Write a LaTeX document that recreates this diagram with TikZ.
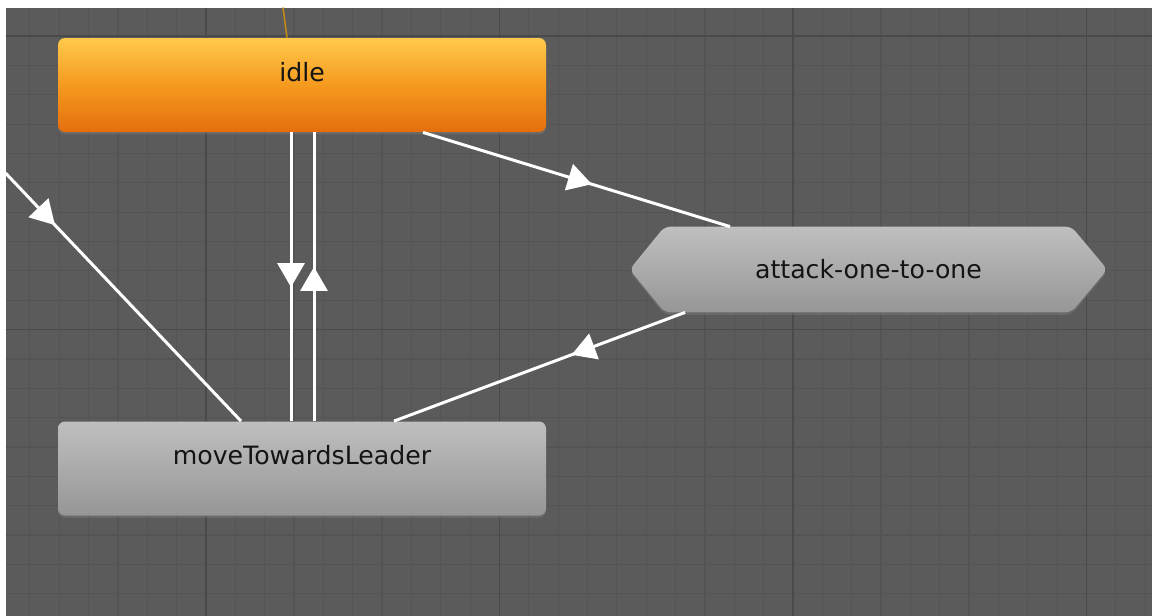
\documentclass[tikz,border=0pt]{standalone}
\usepackage{fontspec}
\setmainfont{DejaVu Sans}
\usetikzlibrary{positioning,arrows.meta,calc,decorations.markings,backgrounds,shadows}
\definecolor{canvas}{HTML}{5B5B5B}
\definecolor{gridfine}{HTML}{545454}
\definecolor{gridbold}{HTML}{4A4A4A}
\definecolor{idletop}{HTML}{FFC94C}
\definecolor{idlemid}{HTML}{F59A1E}
\definecolor{idlebot}{HTML}{E56E0E}
\definecolor{greytop}{HTML}{BFBFBF}
\definecolor{greybot}{HTML}{969696}
\definecolor{entryline}{HTML}{C08A18}
\definecolor{labeltext}{HTML}{141414}
\tikzset{
  animstate/.style = {rectangle, rounded corners=3.5pt, minimum width=244pt, minimum height=47pt,
                      inner sep=0pt, text height=9pt, text depth=13pt, text=labeltext,
                      drop shadow={opacity=0.4, shadow xshift=0pt, shadow yshift=-1.2pt}},
  hexstate/.style  = {rectangle, minimum width=238.5pt, minimum height=42.5pt, inner sep=0pt,
                      text=labeltext},
  idlefill/.style  = {top color=idletop, bottom color=idlebot, middle color=idlemid},
  greyfill/.style  = {top color=greytop, bottom color=greybot},
  gridline/.style  = {draw=gridfine, line width=0.6pt},
  gridmajor/.style = {draw=gridbold, line width=0.7pt},
  entry/.style     = {draw=entryline, line width=0.8pt},
  trans/.style     = {white, line width=1.5pt, postaction={decorate},
                      decoration={markings, mark=at position #1 with
                        {\arrow{Triangle[length=12pt, width=13.5pt]}}}},
}

\begin{document}
\begin{tikzpicture}[x=0.5pt, y=-0.5pt, font=\fontsize{12.6}{15}\selectfont]
  \useasboundingbox (0,0) rectangle (1152,616);

  %% ---------------- canvas and grid ---------------------------------------------
  \begin{scope}[on background layer]
    \fill[white] (0,0) rectangle (1152,616);
    \fill[canvas] (5.5,7.5) rectangle (1152,616);
    \foreach \k in {1,...,39} \draw[gridline] ({0.5+29.35*\k},7.5) -- ({0.5+29.35*\k},616);
    \foreach \k in {1,...,20} \draw[gridline] (5.5,{6.7+29.35*\k}) -- (1152,{6.7+29.35*\k});
    \foreach \k in {7,17,27,37} \draw[gridmajor] ({0.5+29.35*\k},7.5) -- ({0.5+29.35*\k},616);
    \foreach \k in {1,11} \draw[gridmajor] (5.5,{6.7+29.35*\k}) -- (1152,{6.7+29.35*\k});
  \end{scope}

  %% ---------------- states ------------------------------------------------------
  \node[animstate, idlefill] (idle) at (302,85) {idle};
  \node[animstate, greyfill] (move) at (302,468.5) {moveTowardsLeader};
  \node[hexstate] (attack) at (868.5,269.5) {attack-one-to-one};
  \begin{scope}[on background layer]
    \path[greyfill, rounded corners=3pt,
          drop shadow={opacity=0.4, shadow xshift=0pt, shadow yshift=-1.2pt}]
      (attack.west) -- ($(attack.north west)+(35,0)$) -- ($(attack.north east)+(-36,0)$)
      -- (attack.east) -- ($(attack.south east)+(-36,0)$) -- ($(attack.south west)+(35,0)$) -- cycle;
  \end{scope}

  %% ---------------- transitions -------------------------------------------------
  \coordinate (entrytop) at (283,7.5);
  \coordinate (enter) at (5.5,173);
  \draw[entry] (entrytop) -- ($(idle.north)+(-15,0)$);
  \draw[trans=0.536] ($(idle.south)+(-11,0)$) -- ($(move.north)+(-11,0)$);
  \draw[trans=0.534] ($(move.north)+(12,0)$) -- ($(idle.south)+(12,0)$);
  \draw[trans=0.55] ($(idle.south)+(121,0)$) -- ($(attack.north)+(-138.5,0)$);
  \draw[trans=0.39] ($(attack.south)+(-183.5,0)$) -- ($(move.north)+(92,0)$);
  \draw[trans=0.21] (enter) -- ($(move.north)+(-61,0)$);
\end{tikzpicture}
\end{document}
